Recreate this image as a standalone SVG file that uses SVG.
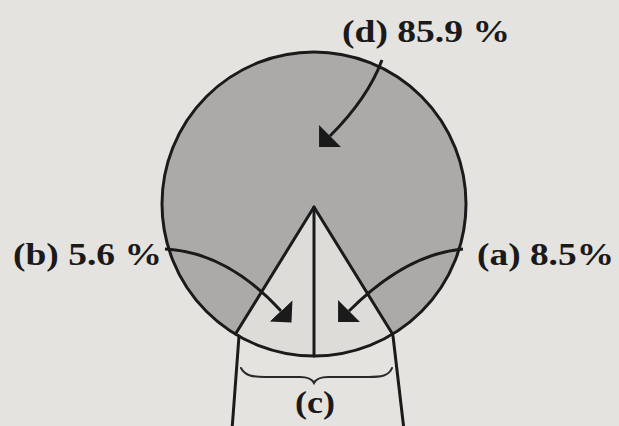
<svg xmlns="http://www.w3.org/2000/svg" width="619" height="426" viewBox="0 0 619 426">
<style>
.ln{fill:none;stroke:#1b1a1a;stroke-width:3;stroke-linecap:round;stroke-linejoin:round}
.thin{fill:none;stroke:#2a2928;stroke-width:2;stroke-linecap:round}
.lbl{font-family:'Liberation Serif','Times New Roman',Times,serif;font-weight:700;font-size:32px;fill:#1b1a1a}
.arr{fill:none;stroke:#1b1a1a;stroke-width:3;marker-end:url(#head)}
</style>
<defs>
<marker id="head" markerUnits="userSpaceOnUse" markerWidth="20" markerHeight="34" refX="0" refY="17" orient="auto" viewBox="0 0 20 34">
<path d="M0,1.5 L15.5,17 L0,32.5 Z" fill="#1b1a1a"/>
</marker>
</defs>
<rect width="619" height="426" fill="#e4e3df"/>
<g id="circle">
<circle cx="314" cy="204" r="152" fill="#abaaa8"/>
<path d="M314,207 L235.5,334 A152,152 0 0,0 392.5,334 Z" fill="#dddcd8"/>
<circle cx="314" cy="204" r="152" class="ln"/>
</g>
<g id="cone">
<path class="ln" d="M235.5,334 L314,207 L392.5,334"/>
<path class="ln" d="M314,207 L314,356"/>
<path class="ln" d="M239,336 L232,430"/>
<path class="ln" d="M393,336 L404,430"/>
</g>
<g id="brace">
<path class="thin" d="M241,368 C245,376 253,377 265,377 L300,377 C308,377 312,379 314,383 C316,379 320,377 328,377 L368,377 C381,377 389,376 392,368"/>
</g>
<g id="connectors">
<path class="arr" d="M382,60 Q368,98 330,136"/>
<path class="arr" d="M165,249 Q227,252 281,311"/>
<path class="arr" d="M463,249 Q406,254 349,311"/>
</g>
<g id="label-d"><text class="lbl" x="342" y="42" textLength="168" lengthAdjust="spacingAndGlyphs">(d) 85.9 %</text></g>
<g id="label-b"><text class="lbl" x="13" y="265" textLength="149" lengthAdjust="spacingAndGlyphs">(b) 5.6 %</text></g>
<g id="label-a"><text class="lbl" x="477" y="265" textLength="137" lengthAdjust="spacingAndGlyphs">(a) 8.5%</text></g>
<g id="label-c"><text class="lbl" x="295" y="413" textLength="40" lengthAdjust="spacingAndGlyphs">(c)</text></g>
</svg>
